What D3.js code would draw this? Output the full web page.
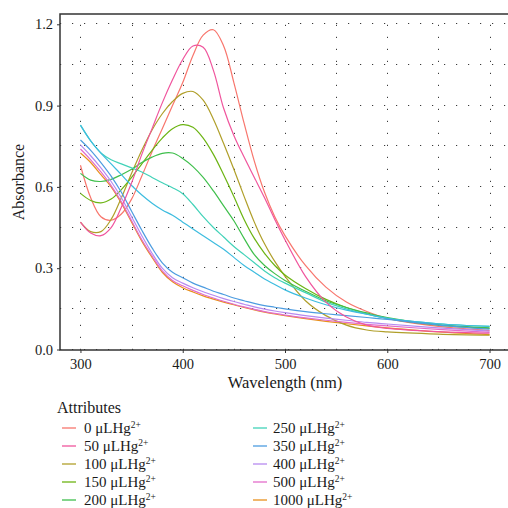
<!DOCTYPE html>
<html>
<head>
<meta charset="utf-8">
<script src="https://cdn.jsdelivr.net/npm/d3@7"></script>
<style>
  body { margin: 0; background: #fff; }
  text { font-family: "Liberation Serif", serif; fill: #1a1a1a; }
</style>
</head>
<body>
<div id="wrapper"></div>
<script>
// wavelength grid (nm) shared by every spectrum
const wavelengths = [300,310,320,330,340,350,360,370,380,390,400,410,420,430,440,450,460,470,480,490,500,520,540,560,580,600,650,700];

// absorbance, one array per Hg2+ amount
const abs0    = [0.68,0.56,0.49,0.477,0.50,0.555,0.64,0.73,0.815,0.90,0.985,1.085,1.16,1.18,1.12,0.985,0.835,0.695,0.58,0.49,0.42,0.31,0.23,0.175,0.14,0.115,0.085,0.07];
const abs50   = [0.47,0.43,0.42,0.45,0.525,0.615,0.72,0.815,0.91,0.995,1.07,1.12,1.115,1.03,0.89,0.79,0.71,0.635,0.56,0.48,0.405,0.27,0.175,0.12,0.09,0.078,0.066,0.06];
const abs100  = [0.47,0.435,0.435,0.48,0.56,0.65,0.735,0.81,0.87,0.915,0.945,0.952,0.92,0.85,0.76,0.665,0.565,0.47,0.39,0.325,0.27,0.18,0.125,0.09,0.072,0.065,0.057,0.053];
const abs150  = [0.576,0.55,0.541,0.555,0.59,0.635,0.685,0.735,0.78,0.815,0.83,0.82,0.78,0.72,0.645,0.565,0.48,0.41,0.355,0.31,0.275,0.225,0.185,0.155,0.132,0.115,0.09,0.078];
const abs200  = [0.65,0.625,0.62,0.628,0.645,0.665,0.69,0.71,0.724,0.725,0.705,0.675,0.635,0.585,0.53,0.475,0.41,0.35,0.31,0.28,0.255,0.215,0.18,0.155,0.135,0.118,0.092,0.08];
const abs250  = [0.828,0.77,0.725,0.70,0.685,0.67,0.655,0.635,0.615,0.597,0.575,0.535,0.49,0.45,0.415,0.38,0.35,0.32,0.29,0.265,0.245,0.21,0.175,0.15,0.13,0.115,0.095,0.085];
const abs300  = [0.828,0.77,0.725,0.685,0.645,0.605,0.57,0.54,0.515,0.495,0.47,0.445,0.42,0.395,0.37,0.34,0.31,0.285,0.26,0.24,0.22,0.19,0.165,0.145,0.13,0.115,0.095,0.085];
const abs350  = [0.773,0.735,0.69,0.64,0.58,0.51,0.44,0.375,0.32,0.285,0.265,0.245,0.23,0.215,0.203,0.19,0.18,0.17,0.162,0.156,0.15,0.14,0.132,0.125,0.118,0.111,0.09,0.075];
const abs400  = [0.755,0.715,0.67,0.62,0.56,0.49,0.42,0.355,0.30,0.265,0.245,0.228,0.213,0.20,0.188,0.177,0.167,0.157,0.149,0.142,0.136,0.125,0.116,0.108,0.10,0.094,0.08,0.068];
const abs500  = [0.74,0.70,0.655,0.605,0.545,0.475,0.405,0.345,0.29,0.255,0.235,0.218,0.203,0.19,0.178,0.167,0.157,0.148,0.14,0.133,0.127,0.117,0.108,0.10,0.093,0.087,0.074,0.063];
const abs1000 = [0.725,0.69,0.645,0.60,0.54,0.47,0.40,0.34,0.285,0.25,0.228,0.212,0.198,0.186,0.175,0.165,0.155,0.146,0.138,0.131,0.125,0.114,0.104,0.095,0.087,0.08,0.065,0.055];

// legend order (column 1 first, then column 2)
const seriesNames  = ["0","50","100","150","200","300","250","350","400","500","1000"];
const seriesValues = [abs0,abs50,abs100,abs150,abs200,abs300,abs250,abs350,abs400,abs500,abs1000];
const seriesColors = ["#F8766D","#F0559D","#B09F2A","#6CB413","#3FBF4C","#3DBCDF","#41D2B8","#4D9CE0","#B68AF0","#E36CCB","#E8901C"];
// order the lines are painted in
const drawOrder = ["0","1000","100","150","200","250","300","350","400","500","50"];

const xTicks = [300,400,500,600,700];
const yTicks = [0,0.3,0.6,0.9,1.2];
const xGrid = [300,350,400,450,500,550,600,650,700];
const yGrid = [0,0.15,0.3,0.45,0.6,0.75,0.9,1.05,1.2];

function buildPlot() {
    const dimension = {
        width: 508,
        height: 508,
        margin: { top: 14, left: 60, bottom: 158, right: -2 }
    };
    const plotBottom = dimension.height - dimension.margin.bottom;
    const plotRight = dimension.width - dimension.margin.right;

    const svg = d3.select("#wrapper").append("svg")
        .attr("width", dimension.width)
        .attr("height", dimension.height);

    const scaleX = d3.scaleLinear()
        .domain([280, 720])
        .range([dimension.margin.left, plotRight]);

    const scaleY = d3.scaleLinear()
        .domain([0, 1.238])
        .range([plotBottom - 0.5, dimension.margin.top]);

    // dotted grid
    const grid = svg.append("g")
        .attr("stroke", "#3a3a3a")
        .attr("stroke-width", 1)
        .attr("stroke-dasharray", "1.2 10.8");
    grid.selectAll(".gx").data(xGrid).enter().append("line")
        .attr("x1", d => Math.round(scaleX(d)) + 0.5)
        .attr("x2", d => Math.round(scaleX(d)) + 0.5)
        .attr("y1", plotBottom)
        .attr("y2", dimension.margin.top);
    grid.selectAll(".gy").data(yGrid).enter().append("line")
        .attr("x1", dimension.margin.left)
        .attr("x2", plotRight)
        .attr("y1", d => Math.round(scaleY(d)) - 0.5)
        .attr("y2", d => Math.round(scaleY(d)) - 0.5);

    // spectra
    const line = d3.line()
        .x((d, i) => scaleX(wavelengths[i]))
        .y(d => scaleY(d))
        .curve(d3.curveCatmullRom.alpha(0.5));

    svg.append("g").selectAll("path")
        .data(drawOrder)
        .enter().append("path")
        .attr("d", name => line(seriesValues[seriesNames.indexOf(name)]))
        .attr("fill", "none")
        .attr("stroke", name => seriesColors[seriesNames.indexOf(name)])
        .attr("stroke-width", 1.2);

    // panel border (right side falls outside the picture)
    svg.append("rect")
        .attr("x", dimension.margin.left)
        .attr("y", dimension.margin.top)
        .attr("width", plotRight - dimension.margin.left)
        .attr("height", plotBottom - dimension.margin.top)
        .attr("fill", "none")
        .attr("stroke", "#333")
        .attr("stroke-width", 1.5);

    const xAxis = svg.append("g")
        .attr("transform", `translate(0,${plotBottom})`)
        .call(d3.axisBottom(scaleX).tickValues(xTicks).tickSize(3).tickPadding(6));
    const yAxis = svg.append("g")
        .attr("transform", `translate(${dimension.margin.left},0)`)
        .call(d3.axisLeft(scaleY).tickValues(yTicks).tickFormat(d3.format(".1f")).tickSize(3).tickPadding(4));

    [xAxis, yAxis].forEach(ax => {
        ax.select(".domain").remove();
        ax.selectAll(".tick line").attr("stroke", "#333");
        ax.selectAll(".tick text")
            .attr("font-family", "Liberation Serif, serif")
            .attr("font-size", "14.5px")
            .attr("fill", "#1a1a1a");
    });

    svg.append("text")
        .attr("x", (dimension.margin.left + 510) / 2)
        .attr("y", 388)
        .attr("text-anchor", "middle")
        .attr("font-size", "16.5px")
        .text("Wavelength (nm)");

    svg.append("text")
        .attr("transform", `translate(24,${(dimension.margin.top + plotBottom) / 2}) rotate(-90)`)
        .attr("text-anchor", "middle")
        .attr("font-size", "16px")
        .text("Absorbance");

    // legend
    const legend = svg.append("g");
    legend.append("text")
        .attr("x", 57)
        .attr("y", 413)
        .attr("font-size", "16px")
        .text("Attributes");

    const items = legend.selectAll(".item")
        .data(seriesNames)
        .enter().append("g")
        .attr("transform", (d, i) => {
            const col = i < 6 ? 0 : 1;
            const row = i < 6 ? i : i - 6;
            return `translate(${col === 0 ? 62 : 253},${428 + row * 18})`;
        });

    items.append("line")
        .attr("x1", 0).attr("x2", 14)
        .attr("y1", 0).attr("y2", 0)
        .attr("stroke", (d, i) => seriesColors[i])
        .attr("stroke-width", 1.3);

    const label = items.append("text")
        .attr("x", (d, i) => i < 6 ? 22 : 20)
        .attr("y", 5)
        .attr("font-size", "15px");
    label.append("tspan").text(d => d + " μLHg");
    label.append("tspan")
        .attr("dy", -5)
        .attr("font-size", "9.5px")
        .text("2+");
}

buildPlot();
</script>
</body>
</html>
